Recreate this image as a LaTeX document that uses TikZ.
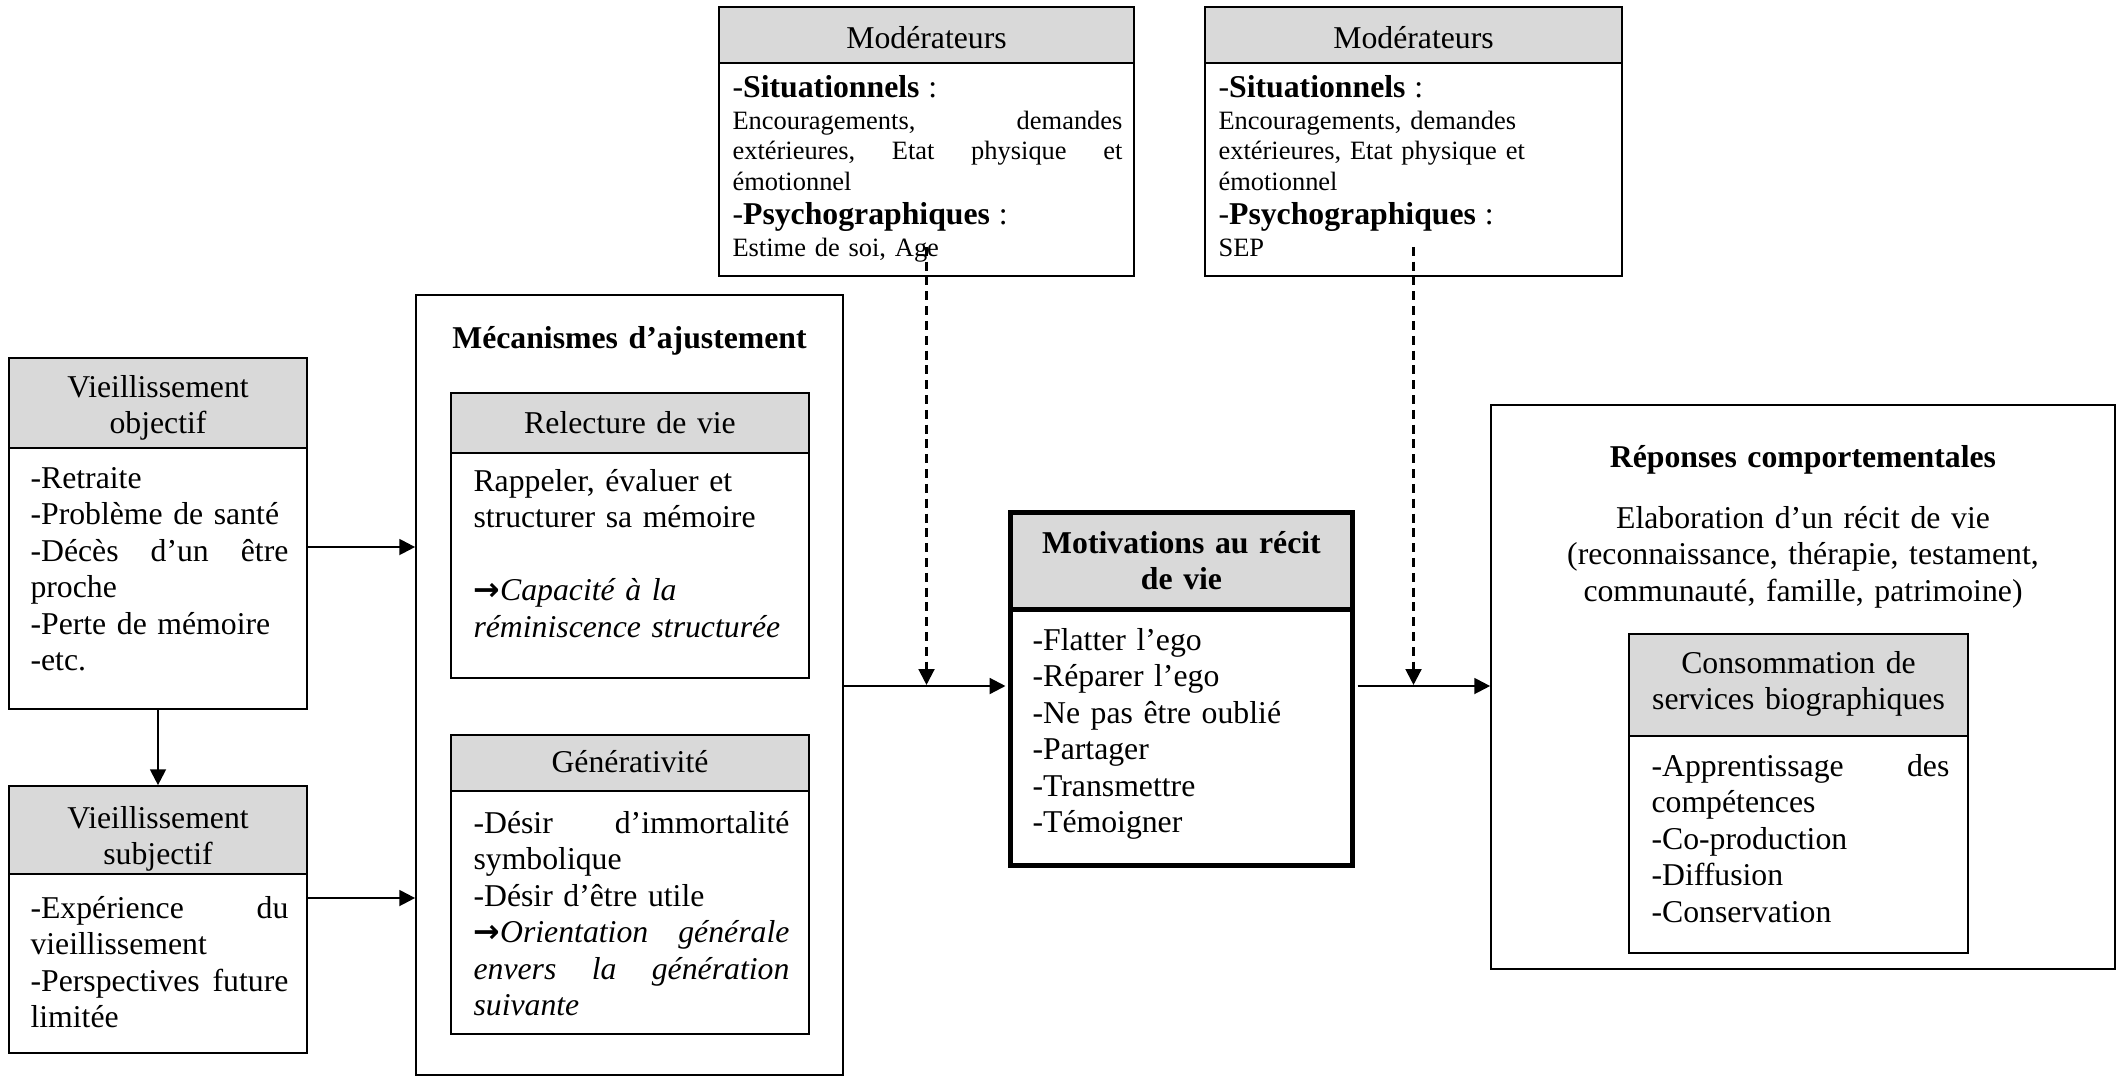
\documentclass[tikz,border=0pt]{standalone}
\usepackage{fontspec}
\setmainfont{Liberation Serif}
\newfontfamily\arrowfont{DejaVu Sans}
\usetikzlibrary{arrows.meta,fit,calc}
\definecolor{hdrgray}{RGB}{217,217,217}
\newcommand{\myarr}{{\arrowfont\bfseries →}}
\tikzset{
  box/.style={draw, line width=0.65pt, inner sep=0pt},
  hdr/.style={box, fill=hdrgray},
  thickbox/.style={draw, line width=1.9pt, inner sep=0pt},
  txt/.style={inner sep=0pt, anchor=base west, align=left, font={\fontsize{12}{13.8}\selectfont}},
  ctxt/.style={inner sep=0pt, anchor=base, align=center, font={\fontsize{12}{13.8}\selectfont}},
  modtxt/.style={inner sep=0pt, anchor=base west, align=left, text width=147.4pt, font={\fontsize{10}{11.7}\selectfont}},
  arr/.style={line width=0.85pt, -{Triangle[length=6pt,width=6pt]}},
  darr/.style={arr, dash pattern=on 3.4pt off 2.2pt},
}
\begin{document}
\begin{tikzpicture}[x={(0.378pt,0)}, y={(0,-0.378pt)}]
\useasboundingbox (0,0) rectangle (2125,1078);

% ---------- Vieillissement objectif ----------
\node[box, fit={(9,358) (307,709)}] (vo) {};
\node[hdr, fit={(9,358) (307,448)}] (voh) {};
\node[ctxt, text width=105.8pt] (voht) at (158,397) {Vieillissement\\objectif};
\node[txt, text width=97.5pt] (vob) at (30,488) {-Retraite\\
-Problème de santé\\
-Décès\hfill d’un\hfill être\\
proche\\
-Perte de mémoire\\
-etc.};

% ---------- Vieillissement subjectif ----------
\node[box, fit={(9,786) (307,1053)}] (vs) {};
\node[hdr, fit={(9,786) (307,874)}] (vsh) {};
\node[ctxt, text width=105.8pt] (vsht) at (158,828) {Vieillissement\\subjectif};
\node[txt, text width=97.5pt] (vsb) at (30,918) {-Expérience\hfill du\\
vieillissement\\
-Perspectives\hfill future\\
limitée};

% ---------- Mecanismes d'ajustement ----------
\node[box, fit={(416,295) (843,1075)}] (meca) {};
\node[ctxt, text width=151pt, font={\fontsize{12}{13.8}\selectfont\bfseries}] (mecat) at (629.5,348) {Mécanismes d’ajustement};

\node[box, fit={(451,393) (809,678)}] (rel) {};
\node[hdr, fit={(451,393) (809,453)}] (relh) {};
\node[ctxt, text width=128.5pt] (relht) at (630,433) {Relecture de vie};
\node[txt, text width=119.4pt] (relb) at (473,491) {Rappeler, évaluer et\\
structurer sa mémoire\\[13.8pt]
\myarr\textit{Capacité à la}\\
\textit{réminiscence structurée}};

\node[box, fit={(451,735) (809,1034)}] (gen) {};
\node[hdr, fit={(451,735) (809,791)}] (genh) {};
\node[ctxt, text width=128.5pt] (genht) at (630,772) {Générativité};
\node[txt, text width=119.4pt] (genb) at (473,833) {-Désir\hfill d’immortalité\\
symbolique\\
-Désir d’être utile\\
\myarr\textit{Orientation\hfill générale}\\
\textit{envers\hfill la\hfill génération}\\
\textit{suivante}};

% ---------- Moderateurs 1 ----------
\node[box, fit={(719,7) (1134,276)}] (mod1) {};
\node[hdr, fit={(719,7) (1134,63)}] (mod1h) {};
\node[ctxt, text width=151pt] (mod1ht) at (926.5,48) {Modérateurs};
\node[modtxt] (mod1b) at (732,97) {{\fontsize{12}{11.7}\selectfont -\textbf{Situationnels} :}\\[0.4pt]
Encouragements,\hfill demandes\\
extérieures,\hfill Etat\hfill physique\hfill et\\
émotionnel\\[1.15pt]
{\fontsize{12}{11.7}\selectfont -\textbf{Psychographiques} :}\\[0.4pt]
Estime de soi, Age};

% ---------- Moderateurs 2 ----------
\node[box, fit={(1205,7) (1622,276)}] (mod2) {};
\node[hdr, fit={(1205,7) (1622,63)}] (mod2h) {};
\node[ctxt, text width=151pt] (mod2ht) at (1413.5,48) {Modérateurs};
\node[modtxt] (mod2b) at (1218,97) {{\fontsize{12}{11.7}\selectfont -\textbf{Situationnels} :}\\[0.4pt]
Encouragements, demandes\\
extérieures, Etat physique et\\
émotionnel\\[1.15pt]
{\fontsize{12}{11.7}\selectfont -\textbf{Psychographiques} :}\\[0.4pt]
SEP};

% ---------- Motivations ----------
\node[thickbox, fit={(1010.5,512.5) (1352.5,865.5)}] (motiv) {};
\node[thickbox, fill=hdrgray, fit={(1010.5,512.5) (1352.5,609.5)}] (motivh) {};
\node[ctxt, text width=121pt, font={\fontsize{12}{13.8}\selectfont\bfseries}] (motivht) at (1181.5,553) {Motivations au récit\\de vie};
\node[txt, text width=113.4pt] (motivb) at (1032,650) {-Flatter l’ego\\
-Réparer l’ego\\
-Ne pas être oublié\\
-Partager\\
-Transmettre\\
-Témoigner};

% ---------- Reponses comportementales ----------
\node[box, fit={(1491,405) (2115,969)}] (rep) {};
\node[ctxt, text width=211.7pt, font={\fontsize{12}{13.8}\selectfont\bfseries}] (rept) at (1803,467) {Réponses comportementales};
\node[ctxt, text width=211.7pt] (repb) at (1803,528) {Elaboration d’un récit de vie\\
(reconnaissance, thérapie, testament,\\
communauté, famille, patrimoine)};

\node[box, fit={(1629,634) (1968,953)}] (cons) {};
\node[hdr, fit={(1629,634) (1968,736)}] (consh) {};
\node[ctxt, text width=121pt] (consht) at (1798.5,673) {Consommation de\\services biographiques};
\node[txt, text width=112.6pt] (consb) at (1651,776) {-Apprentissage\hfill des\\
compétences\\
-Co-production\\
-Diffusion\\
-Conservation};

% ---------- connectors ----------
\coordinate (ya) at (0,547);
\coordinate (yb) at (0,898);
\coordinate (midy) at (0,686);
\coordinate (d1) at ($(mod1.south)+(0,-30)$);
\coordinate (d2) at ($(mod2.south)+(0,-30)$);

\draw[arr] (vo.east |- ya) -- (meca.west |- ya);
\draw[arr] (vs.east |- yb) -- (meca.west |- yb);
\draw[arr] (vo.south) -- (vs.north);
\draw[arr, shorten >=0.95pt] (meca.east |- midy) -- (motiv.west |- midy);
\draw[arr, shorten <=0.95pt] (motiv.east |- midy) -- (rep.west |- midy);
\draw[darr, shorten >=0.4pt] (d1) -- (d1 |- midy);
\draw[darr, shorten >=0.4pt] (d2) -- (d2 |- midy);
\end{tikzpicture}
\end{document}
